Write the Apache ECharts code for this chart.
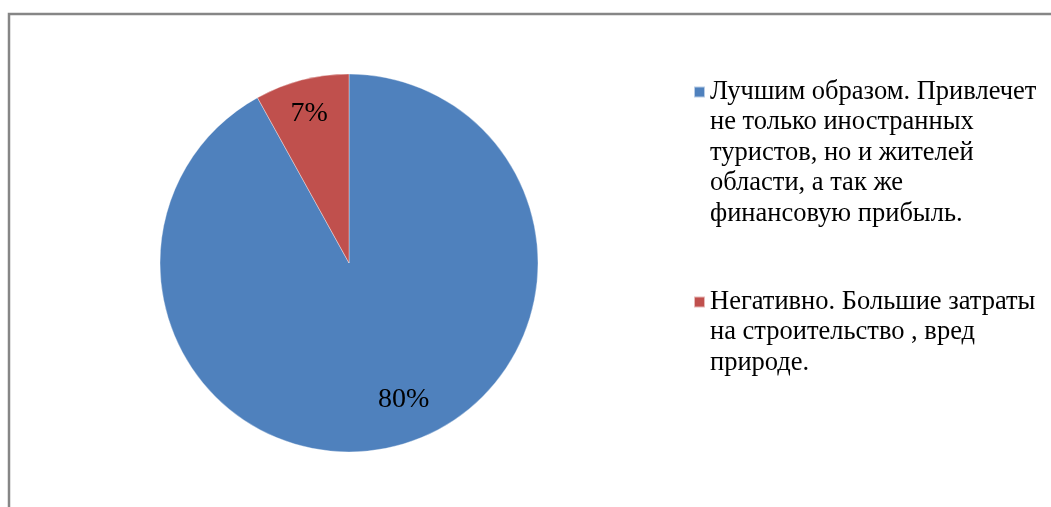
<!DOCTYPE html>
<html>
<head>
<meta charset="utf-8">
<script src="https://cdn.jsdelivr.net/npm/echarts@6/dist/echarts.min.js"></script>
<style>
    html, body { margin: 0; padding: 0; background: #fff; }
    #chart { width: 1051px; height: 507px; }
</style>
</head>
<body>
<div id="chart"></div>
<script>
    // ответы опроса
    const categories = [
        'Лучшим образом. Привлечет не только иностранных туристов, но и жителей области, а так же финансовую прибыль.',
        'Негативно. Большие затраты на строительство , вред природе.'
    ];
    const legendLines = [
        ['Лучшим образом. Привлечет', 'не только иностранных', 'туристов, но и жителей', 'области, а так же', 'финансовую прибыль.'],
        ['Негативно. Большие затраты', 'на строительство , вред', 'природе.']
    ];
    const values = [80, 7];
    const colors = ['#4F81BD', '#C0504D'];

    const font = '"Liberation Serif", "Times New Roman", serif';
    const lh = 30.4;
    const R = 189;
    const center = [349, 263];
    const iconMid = [92, 302];
    const labelOffsets = [[15, -17], [0, 5]];

    const chart = echarts.init(document.getElementById('chart'));

    const pieData = categories.map((name, i) => ({
        name: name,
        value: values[i],
        itemStyle: { color: colors[i] }
    }));

    // одна легенда на каждый пункт; пустые строки сверху, чтобы значок был у первой строки
    const legends = categories.map((name, i) => {
        const n = legendLines[i].length;
        const blank = new Array(n - 1).fill(' ');
        return {
            orient: 'vertical',
            left: 693,
            top: iconMid[i] - (2 * n - 1) * lh / 2,
            padding: 0,
            itemWidth: 11,
            itemHeight: 11,
            icon: 'rect',
            selectedMode: false,
            textStyle: {
                fontFamily: font,
                fontSize: 26.5,
                color: '#000',
                lineHeight: lh
            },
            data: [name],
            formatter: () => blank.concat(legendLines[i]).join('\n')
        };
    });

    chart.setOption({
        backgroundColor: '#fff',
        animation: false,
        graphic: [{
            type: 'rect',
            shape: { x: 9, y: 14, width: 1200, height: 700 },
            style: { fill: 'none', stroke: '#868686', lineWidth: 2.5 },
            silent: true
        }],
        legend: legends,
        series: [{
            type: 'pie',
            center: center,
            radius: [0, R],
            startAngle: 90,
            clockwise: true,
            label: { show: false },
            labelLine: { show: false },
            itemStyle: { borderColor: 'rgba(255,255,255,0.6)', borderWidth: 0.6 },
            emphasis: { disabled: true },
            data: pieData
        }, {
            // прозрачное кольцо только для подписей
            type: 'pie',
            center: center,
            radius: [R * 0.65, R],
            startAngle: 90,
            clockwise: true,
            silent: true,
            legendHoverLink: false,
            itemStyle: { color: 'transparent' },
            labelLine: { show: false },
            label: {
                show: true,
                position: 'inside',
                formatter: p => p.value + '%',
                fontFamily: font,
                fontSize: 28,
                color: '#000'
            },
            data: categories.map((name, i) => ({
                name: name,
                value: values[i],
                label: { offset: labelOffsets[i] }
            }))
        }]
    });
</script>
</body>
</html>
